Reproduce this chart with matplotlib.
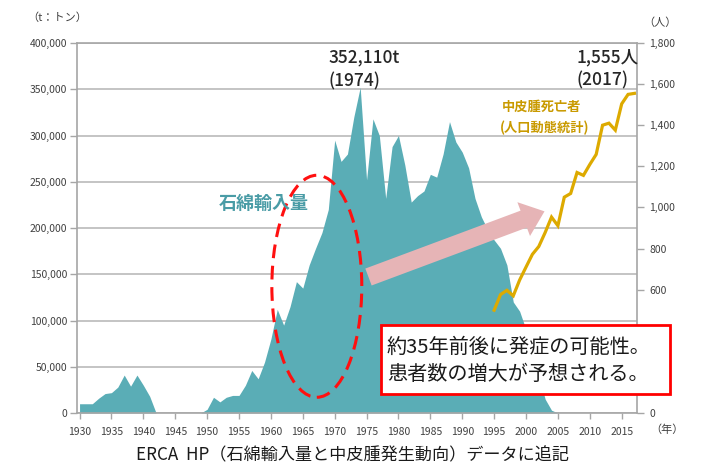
import matplotlib.pyplot as plt
from matplotlib.patches import Ellipse, FancyArrowPatch, Rectangle
from matplotlib.ticker import FuncFormatter

plt.rcParams['font.family'] = ['Noto Sans CJK JP', 'DejaVu Sans']

# 石綿輸入量 (t)
years = list(range(1930, 2006))
imports = [10000, 10000, 10000, 16000, 21000, 22000, 28000, 41000, 29000, 41000,
           30000, 18000, 0, 0, 0, 0, 0, 0, 0, 0,
           4000, 17000, 12000, 17000, 19000, 19000, 30000, 46000, 37000, 55000,
           80000, 112000, 95000, 115000, 142000, 135000, 160000, 178000, 195000, 220000,
           295000, 272000, 280000, 320000, 352110, 252000, 318000, 300000, 232000, 288000,
           300000, 268000, 228000, 235000, 240000, 258000, 255000, 280000, 315000, 293000,
           282000, 265000, 232000, 212000, 198000, 187000, 178000, 160000, 120000, 110000,
           90000, 62000, 40000, 15000, 3000, 0]

# 中皮腫死亡者 (人)
d_years = list(range(1995, 2018))
deaths = [500, 576, 597, 570, 647, 710, 772, 810, 878, 953, 911, 1050,
          1068, 1170, 1156, 1209, 1258, 1400, 1410, 1376, 1504, 1550, 1555]

left_ticks = list(range(0, 400001, 50000))
right_ticks = [0, 600, 800, 1000, 1200, 1400, 1600, 1800]
x_ticks = list(range(1930, 2016, 5))

teal = '#5AADB6'
gold = '#DDAA00'
gray = '#A6A6A6'
tc = '#404040'

W, H = 707, 468
fig = plt.figure(figsize=(W / 100, H / 100), dpi=100)
ax = fig.add_axes([77 / W, 1 - 413 / H, 560 / W, 370 / H])

ax.fill_between(years, imports, color=teal, lw=0, zorder=2)
ax.set_xlim(1929.6, 2017.4)
ax.set_ylim(0, 400000)
ax.set_yticks(left_ticks)
ax.yaxis.set_major_formatter(FuncFormatter(lambda v, p: f'{int(v):,}'))
ax.set_xticks(x_ticks)
ax.grid(axis='y', color='#BFBFBF', lw=1.3, zorder=0)
ax.set_axisbelow(True)
for s in ax.spines.values():
    s.set_color(gray)
    s.set_linewidth(1.2)
ax.tick_params(axis='y', labelsize=7.5, colors=gray, labelcolor=tc, length=5, width=1, pad=2)
ax.tick_params(axis='x', labelsize=7.5, colors=gray, labelcolor=tc, length=4, width=1, pad=6)

ax2 = ax.twinx()
ax2.plot(d_years, deaths, color=gold, lw=2.3, solid_joinstyle='miter', zorder=5)
ax2.set_ylim(0, 1800)
ax2.set_yticks(right_ticks)
ax2.yaxis.set_major_formatter(FuncFormatter(lambda v, p: f'{int(v):,}'))
ax2.tick_params(axis='y', labelsize=7.5, colors=gray, labelcolor=tc, length=5, width=1, pad=4)
for s in ax2.spines.values():
    s.set_visible(False)

# 赤い点線の楕円
ell = Ellipse((1967.2, 137000), 14.1, 240000, fill=False, edgecolor='#FF1010',
              lw=2.2, linestyle=(0, (4.5, 2.5)), zorder=4)
ax.add_patch(ell)

# ピンクの矢印
arr = FancyArrowPatch((1975.3, 147000), (2002.9, 218000),
                      arrowstyle='simple,head_length=1.6,head_width=2.6,tail_width=1.3',
                      mutation_scale=10, color='#E6B4B6', lw=0, shrinkA=0, shrinkB=0, zorder=4)
ax.add_patch(arr)


def ft(x, y, s, **kw):
    fig.text(x / W, 1 - y / H, s, **kw)


ft(57, 18, '（t：トン）', fontsize=8, color=tc, ha='center', va='center')
ft(660, 23, '（人）', fontsize=8, color=tc, ha='center', va='center')
ft(667, 430, '（年）', fontsize=8, color=tc, ha='center', va='center')

ft(329, 57, '352,110t', fontsize=12.5, color='#262626', fontweight='medium', ha='left', va='center')
ft(329, 81, '(1974)', fontsize=12.5, color='#262626', fontweight='medium', ha='left', va='center')
ft(577, 57, '1,555人', fontsize=12.5, color='#262626', fontweight='medium', ha='left', va='center')
ft(577, 80, '(2017)', fontsize=12.5, color='#262626', fontweight='medium', ha='left', va='center')

ft(502, 107, '中皮腫死亡者', fontsize=9.5, color='#C99A00', fontweight='bold', ha='left', va='center')
ft(500, 128, '(人口動態統計)', fontsize=9.5, color='#C99A00', fontweight='bold', ha='left', va='center')

ft(219, 203, '石綿輸入量', fontsize=13, color='#4A9CA6', fontweight='bold', ha='left', va='center')

box = Rectangle((381 / W, 1 - 394 / H), 289 / W, 69 / H, transform=fig.transFigure,
                facecolor='white', edgecolor='#FF0000', lw=2, zorder=10)
fig.patches.append(box)
ft(387, 347, '約35年前後に発症の可能性。', fontsize=14.5, color='#1A1A1A', ha='left', va='center', zorder=11)
ft(387, 375, '患者数の増大が予想される。', fontsize=14.5, color='#1A1A1A', ha='left', va='center', zorder=11)

ft(353, 455, 'ERCA  HP（石綿輸入量と中皮腫発生動向）データに追記', fontsize=12.3,
   color='#1A1A1A', ha='center', va='center')

fig.savefig('out.png', dpi=100, facecolor='white')
